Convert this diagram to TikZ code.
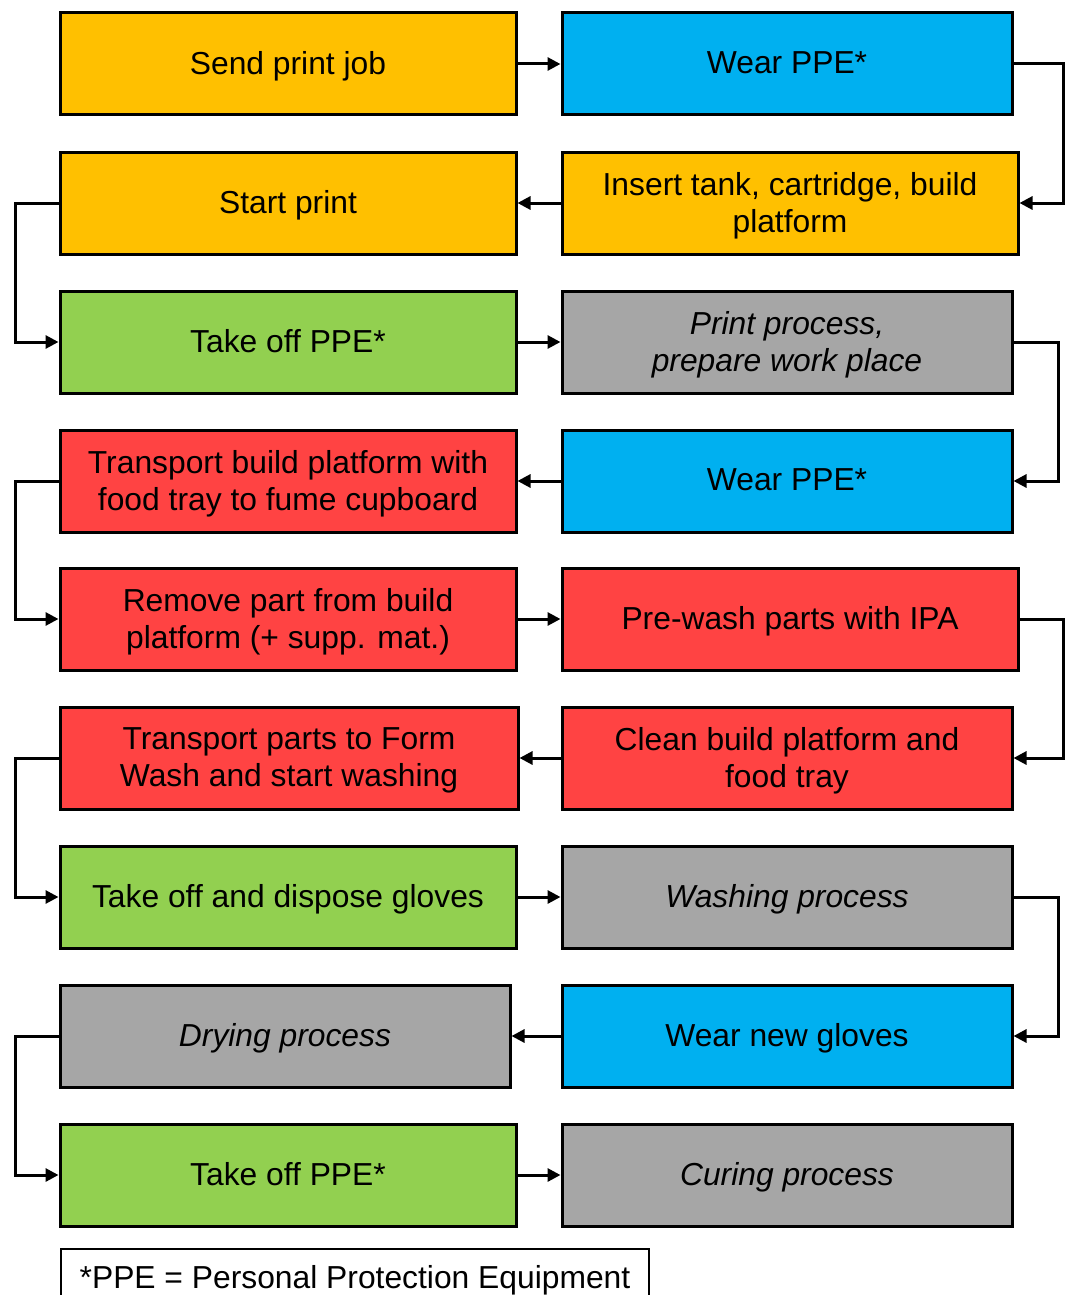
\documentclass[tikz,border=0pt]{standalone}
\usepackage{fontspec}
\setmainfont{Liberation Sans}
\usetikzlibrary{arrows.meta}
\definecolor{cOrange}{HTML}{FFC000}
\definecolor{cBlue}{HTML}{00B0F0}
\definecolor{cGreen}{HTML}{92D050}
\definecolor{cGray}{HTML}{A6A6A6}
\definecolor{cRed}{HTML}{FF4343}
\begin{document}
\begin{tikzpicture}[x=1pt,y=-1pt,
  stepbox/.style={draw=black, line width=3pt, minimum height=102pt, inner sep=0pt,
    align=center, font=\fontsize{31.8}{37}\selectfont, text depth=2pt},
  lbox/.style={stepbox, minimum width=456pt},
  rbox/.style={stepbox, minimum width=450pt},
  proc/.style={font=\fontsize{31.8}{37}\selectfont\itshape},
  arr/.style={line width=3pt, -{Triangle[length=13pt,width=13pt]}}]
\clip (0,0) rectangle (1065,1295);
\fill[white] (0,0) rectangle (1065,1295);
% row centers
\node[lbox, fill=cOrange] (a1) at (288,64) {Send print job};
\node[rbox, fill=cBlue]   (b1) at (787,64) {Wear PPE*};
\node[lbox, fill=cOrange] (a2) at (288,203) {Start print};
\node[stepbox, minimum width=456pt, fill=cOrange] (b2) at (790,203) {Insert tank, cartridge, build\\platform};
\node[lbox, fill=cGreen]  (a3) at (288,342) {Take off PPE*};
\node[rbox, fill=cGray, proc] (b3) at (787,342) {Print process,\\prepare work place};
\node[lbox, fill=cRed]    (a4) at (288,481) {Transport build platform with\\food tray to fume cupboard};
\node[rbox, fill=cBlue]   (b4) at (787,481) {Wear PPE*};
\node[lbox, fill=cRed]    (a5) at (288,619) {Remove part from build\\platform (+ supp. mat.)};
\node[stepbox, minimum width=456pt, fill=cRed] (b5) at (790,619) {Pre-wash parts with IPA};
\node[stepbox, minimum width=458pt, fill=cRed] (a6) at (289,758) {Transport parts to Form\\Wash and start washing};
\node[rbox, fill=cRed]    (b6) at (787,758) {Clean build platform and\\food tray};
\node[lbox, fill=cGreen]  (a7) at (288,897) {Take off and dispose gloves};
\node[rbox, fill=cGray, proc] (b7) at (787,897) {Washing process};
\node[stepbox, minimum width=450pt, fill=cGray, proc] (a8) at (285,1036) {Drying process};
\node[rbox, fill=cBlue]   (b8) at (787,1036) {Wear new gloves};
\node[lbox, fill=cGreen]  (a9) at (288,1175) {Take off PPE*};
\node[rbox, fill=cGray, proc] (b9) at (787,1175) {Curing process};
% footnote
\node[draw=black, line width=2pt, fill=white, minimum width=588pt, minimum height=62pt,
  inner sep=0pt, anchor=north west, font=\fontsize{31.8}{37}\selectfont] (fn) at (60,1248)
  {*PPE = Personal Protection Equipment};
% loop guide coordinates
\coordinate (rxA) at (1063,0);
\coordinate (rxB) at (1058,0);
\coordinate (lx) at (15,0);
% horizontal arrows
\draw[arr] (a1.east) -- (b1.west);
\draw[arr] (b2.west) -- (a2.east);
\draw[arr] (a3.east) -- (b3.west);
\draw[arr] (b4.west) -- (a4.east);
\draw[arr] (a5.east) -- (b5.west);
\draw[arr] (b6.west) -- (a6.east);
\draw[arr] (a7.east) -- (b7.west);
\draw[arr] (b8.west) -- (a8.east);
\draw[arr] (a9.east) -- (b9.west);
% right loops
\draw[arr] (b1.east) -- (b1.east -| rxA) |- (b2.east);
\draw[arr] (b3.east) -- (b3.east -| rxB) |- (b4.east);
\draw[arr] (b5.east) -- (b5.east -| rxA) |- (b6.east);
\draw[arr] (b7.east) -- (b7.east -| rxB) |- (b8.east);
% left loops
\draw[arr] (a2.west) -- (a2.west -| lx) |- (a3.west);
\draw[arr] (a4.west) -- (a4.west -| lx) |- (a5.west);
\draw[arr] (a6.west) -- (a6.west -| lx) |- (a7.west);
\draw[arr] (a8.west) -- (a8.west -| lx) |- (a9.west);
\end{tikzpicture}
\end{document}
